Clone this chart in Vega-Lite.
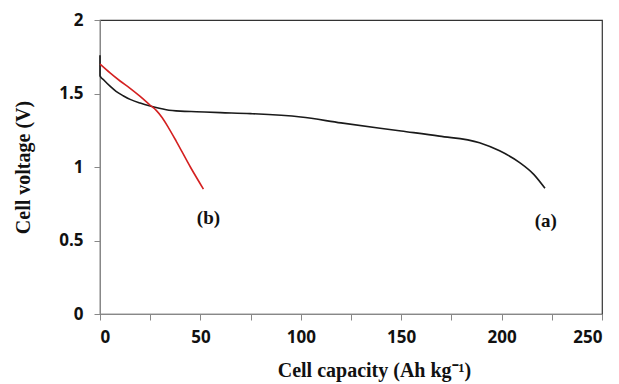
{
  "$schema": "https://vega.github.io/schema/vega-lite/v6.json",
  "width": 502,
  "height": 294,
  "autosize": {"type": "none"},
  "padding": {"left": 100, "top": 20, "right": 17, "bottom": 70},
  "background": "white",
  "config": {
    "view": {"stroke": "#333", "strokeWidth": 1.2},
    "axis": {
      "grid": false,
      "domainColor": "#888",
      "tickColor": "#888",
      "labelFont": "Open Sans",
      "labelFontWeight": "bold",
      "labelFontSize": 17,
      "labelColor": "#111",
      "titleFont": "Liberation Serif",
      "titleFontWeight": "bold",
      "titleFontSize": 20,
      "titleColor": "#111"
    }
  },
  "datasets": {
    "curves": [
      {"i": 0, "s": "a", "cap": 0, "v": 1.76},
      {"i": 1, "s": "a", "cap": 0, "v": 1.62},
      {"i": 2, "s": "a", "cap": 2, "v": 1.59},
      {"i": 3, "s": "a", "cap": 5, "v": 1.55},
      {"i": 4, "s": "a", "cap": 8, "v": 1.515},
      {"i": 5, "s": "a", "cap": 11.5, "v": 1.485},
      {"i": 6, "s": "a", "cap": 15, "v": 1.46},
      {"i": 7, "s": "a", "cap": 20, "v": 1.435},
      {"i": 8, "s": "a", "cap": 25, "v": 1.415},
      {"i": 9, "s": "a", "cap": 33, "v": 1.39},
      {"i": 10, "s": "a", "cap": 40, "v": 1.38},
      {"i": 11, "s": "a", "cap": 48, "v": 1.376},
      {"i": 12, "s": "a", "cap": 60, "v": 1.37},
      {"i": 13, "s": "a", "cap": 75, "v": 1.363},
      {"i": 14, "s": "a", "cap": 100, "v": 1.34},
      {"i": 15, "s": "a", "cap": 120, "v": 1.30},
      {"i": 16, "s": "a", "cap": 150, "v": 1.245},
      {"i": 17, "s": "a", "cap": 169, "v": 1.21},
      {"i": 18, "s": "a", "cap": 189, "v": 1.165},
      {"i": 19, "s": "a", "cap": 199, "v": 1.11},
      {"i": 20, "s": "a", "cap": 209, "v": 1.03},
      {"i": 21, "s": "a", "cap": 216, "v": 0.95},
      {"i": 22, "s": "a", "cap": 221.6, "v": 0.855},
      {"i": 0, "s": "b", "cap": 0, "v": 1.70},
      {"i": 1, "s": "b", "cap": 5, "v": 1.64},
      {"i": 2, "s": "b", "cap": 10, "v": 1.585},
      {"i": 3, "s": "b", "cap": 15, "v": 1.535},
      {"i": 4, "s": "b", "cap": 20, "v": 1.48},
      {"i": 5, "s": "b", "cap": 25, "v": 1.42},
      {"i": 6, "s": "b", "cap": 28, "v": 1.385},
      {"i": 7, "s": "b", "cap": 31, "v": 1.335},
      {"i": 8, "s": "b", "cap": 34, "v": 1.27},
      {"i": 9, "s": "b", "cap": 38, "v": 1.175},
      {"i": 10, "s": "b", "cap": 45, "v": 1.0},
      {"i": 11, "s": "b", "cap": 51.5, "v": 0.85}
    ],
    "labels": [
      {"t": "(b)", "cap": 54, "v": 0.65},
      {"t": "(a)", "cap": 222, "v": 0.63}
    ]
  },
  "layer": [
    {
      "data": {"name": "curves"},
      "mark": {"type": "line", "strokeWidth": 1.6, "interpolate": "monotone"},
      "encoding": {
        "x": {
          "field": "cap", "type": "quantitative",
          "scale": {"domain": [0, 250], "nice": false},
          "axis": {
            "title": "Cell capacity (Ah  kg⁻¹)",
            "values": [0, 25, 50, 75, 100, 125, 150, 175, 200, 225, 250],
            "labelExpr": "datum.value % 50 == 0 ? datum.label : ''",
            "tickSize": 6,
            "labelPadding": 9,
            "titleX": 274,
            "titleY": 62,
            "titleBaseline": "alphabetic"
          }
        },
        "y": {
          "field": "v", "type": "quantitative",
          "scale": {"domain": [0, 2], "nice": false},
          "axis": {
            "title": "Cell voltage (V)",
            "values": [0, 0.5, 1, 1.5, 2],
            "format": "~g",
            "tickSize": 6,
            "labelPadding": 11,
            "titleX": -77,
            "titleBaseline": "middle"
          }
        },
        "color": {
          "field": "s", "type": "nominal",
          "scale": {"domain": ["a", "b"], "range": ["#1a1a1a", "#d42020"]},
          "legend": null
        },
        "order": {"field": "i", "type": "quantitative"}
      }
    },
    {
      "data": {"name": "labels"},
      "mark": {"type": "text", "font": "Liberation Serif", "fontWeight": "bold", "fontSize": 19, "color": "#111"},
      "encoding": {
        "x": {"field": "cap", "type": "quantitative"},
        "y": {"field": "v", "type": "quantitative"},
        "text": {"field": "t"}
      }
    }
  ]
}
